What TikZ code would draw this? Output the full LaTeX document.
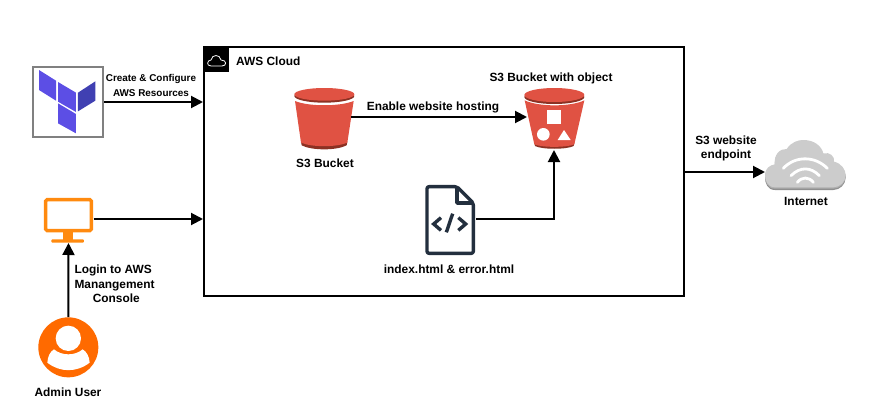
\documentclass[tikz,border=0pt]{standalone}
\usepackage{fontspec}
\setmainfont{Liberation Sans}
\usetikzlibrary{arrows.meta}
\definecolor{tfmain}{HTML}{5C4EE5}
\definecolor{tfdark}{HTML}{4040B2}
\definecolor{tfgray}{HTML}{808080}
\definecolor{screen}{HTML}{FF8A0F}
\definecolor{person}{HTML}{FF6A00}
\definecolor{bucket}{HTML}{E05243}
\definecolor{bucketdk}{HTML}{8C3123}
\definecolor{docline}{HTML}{232F3E}
\definecolor{cloudgray}{HTML}{CCCCCC}
\definecolor{cloudmid}{HTML}{AFAFAF}
\definecolor{cloudedge}{HTML}{8F8F8F}
\def\cloudshape{(285,187) .. controls (262,187) and (255,165) .. (255,150) .. controls (255,130) and (270,120) .. (285,118)
  .. controls (280,90) and (300,70) .. (320,72) .. controls (335,50) and (355,45) .. (370,45)
  .. controls (405,45) and (425,65) .. (430,85) .. controls (450,80) and (465,95) .. (462,110)
  .. controls (485,115) and (497,135) .. (497,150) .. controls (497,170) and (480,187) .. (460,187) -- cycle}
\tikzset{
  conn/.style={draw=black, line width=2pt, -{Triangle[length=12pt,width=12pt]}},
  box/.style={draw=black, line width=2pt, minimum width=480pt, minimum height=249pt},
  tfbox/.style={draw=tfgray, line width=2pt, minimum width=70pt, minimum height=70pt},
  icon/.style={inner sep=0pt, outer sep=0pt},
  lab/.style={font=\bfseries\fontsize{11.9}{14.4}\selectfont, inner sep=0pt},
  labs/.style={font=\bfseries\fontsize{9.9}{15}\selectfont, inner sep=0pt, align=center},
  wifi/.style={draw=white, line width=2.8pt, line cap=round},
  docl/.style={draw=docline, line width=3.4pt}
}
\begin{document}
\begin{tikzpicture}[x=1pt,y=-1pt]
  \useasboundingbox (0,0) rectangle (873,415);

  \node[box] (aws) at (444,171.5) {};
  \node[tfbox] (tf) at (68,102) {};
  \node[icon, minimum width=50pt, minimum height=48pt] (pc) at (68.5,219) {};
  \node[icon, minimum size=60pt] (user) at (68.3,347) {};
  \node[icon, minimum width=53pt, minimum height=60pt] (bkt) at (324.5,117) {};
  \node[icon, minimum width=54pt, minimum height=66pt] (obj) at (554,117) {};
  \node[icon, minimum width=52pt, minimum height=68pt] (doc) at (450,219) {};
  \node[icon, minimum width=81pt, minimum height=36pt] (net) at (805.5,172) {};

  \fill (204,47) rectangle (229,72);
  \draw[white, line width=0.8pt, line join=round] (211,66) .. controls (206,66) and (207,60) .. (211,60)
    .. controls (212,54) and (220,54) .. (221,60) .. controls (227,60) and (227,66) .. (222,66) -- cycle;

  % terraform
  \begin{scope}[shift={(20,50)},scale=1/3]
    \fill[tfmain] (57,60)--(108,92)--(108,152)--(57,120)--cycle;
    \fill[tfmain] (114,96)--(168,128)--(168,186)--(114,155)--cycle;
    \fill[tfdark] (174,128)--(226,94)--(226,152)--(174,184)--cycle;
    \fill[tfmain] (114,160)--(168,192)--(168,250)--(114,220)--cycle;
  \end{scope}

  % monitor and user
  \begin{scope}[shift={(20,190)},scale=1/3]
    \draw[screen, line width=3.4pt, rounded corners=1.5pt] (77,29) rectangle (214,122);
    \fill[screen] (128,122) rectangle (160,150);
    \fill[screen, rounded corners=1pt] (94,148) rectangle (192,158);
    \fill[person] (145,472) circle [radius=90];
    \fill[white] (145,445) circle [radius=38];
    \fill[white] (102,478) .. controls (125,498) and (165,498) .. (188,478)
      .. controls (200,485) and (208,500) .. (209,518)
      .. controls (170,548) and (120,548) .. (82,518)
      .. controls (83,500) and (90,485) .. (102,478) -- cycle;
  \end{scope}

  % plain bucket
  \begin{scope}[shift={(200,40)},scale=1/3]
    \fill[bucketdk] (303,305) -- (442,305) -- (440,316) .. controls (410,332) and (335,332) .. (305,316) -- cycle;
    \fill[bucket] (285,183) .. controls (325,200) and (420,200) .. (461,183) -- (442,308) .. controls (410,322) and (335,322) .. (303,308) -- cycle;
    \fill[bucketdk] (373,168) ellipse [x radius=90, y radius=20];
    \fill[bucket] (373,163) ellipse [x radius=90, y radius=19];
  \end{scope}

  % bucket with objects
  \begin{scope}[shift={(480,65)},scale=1/3]
    \fill[bucketdk] (163,235) -- (283,235) -- (281,243) .. controls (260,254) and (186,254) .. (165,243) -- cycle;
    \fill[bucket] (134,106) .. controls (175,126) and (272,126) .. (313,106) -- (283,238) .. controls (260,248) and (186,248) .. (163,238) -- cycle;
    \fill[bucketdk] (223,96) ellipse [x radius=90, y radius=21];
    \fill[bucket] (223,90) ellipse [x radius=90, y radius=21];
    \fill[white] (202,135) rectangle (243,176);
    \fill[white] (190,208) circle [radius=19];
    \fill[white] (233,225)--(272,225)--(252,195)--cycle;
  \end{scope}

  % document
  \begin{scope}[shift={(375,175)},scale=1/3]
    \draw[docl, rounded corners=2pt, line join=round] (246,35) -- (156,35) -- (156,235) -- (295,235) -- (295,84) -- cycle;
    \draw[docl, line join=round] (246,35) -- (246,84) -- (295,84);
    \draw[docl] (198,128) -- (176,147) -- (198,166);
    \draw[docl] (250,128) -- (272,147) -- (250,166);
    \draw[docl] (233,116) -- (214,172);
  \end{scope}

  % internet
  \begin{scope}[shift={(680,125)},scale=1/3]
    \fill[cloudedge, shift={(0,8)}] \cloudshape;
    \fill[cloudmid, shift={(0,4)}] \cloudshape;
    \fill[cloudgray] \cloudshape;
    \draw[wifi] (310,130) .. controls (345,92) and (405,92) .. (442,130);
    \draw[wifi] (333,152) .. controls (360,125) and (392,125) .. (418,152);
    \draw[wifi] (352,172) .. controls (365,155) and (387,155) .. (400,172);
  \end{scope}

  \draw[conn] (tf.east) -- (tf.east -| aws.west);
  \draw[conn] (pc.east) -- (pc.east -| aws.west);
  \draw[conn] (user.north) -- (pc.south);
  \draw[conn] (bkt.east) -- (obj.west);
  \draw[conn] (doc.east) -| (obj.south);
  \draw[conn] (net.west -| aws.east) -- (net.west);

  \node[labs] (tflab) at (151,85) {Create \& Configure\\AWS Resources};
  \node[lab, align=left, anchor=north west] (pclab) at (74.3,265) {Login to AWS\\Manangement\\\hspace*{18.3pt}Console};
  \node[lab] (userlab) at (68,392) {Admin User};
  \node[lab, anchor=west] (awslab) at (236,61) {AWS Cloud};
  \node[lab] (bktlab) at (325,163.5) {S3 Bucket};
  \node[lab] (objlab) at (551,78) {S3 Bucket with object};
  \node[lab] (hostlab) at (433,107) {Enable website hosting};
  \node[lab] (doclab) at (449,269) {index.html \& error.html};
  \node[lab, align=center] (netlab) at (726,148.5) {S3 website\\endpoint};
  \node[lab] (inetlab) at (806,201.5) {Internet};
\end{tikzpicture}
\end{document}
